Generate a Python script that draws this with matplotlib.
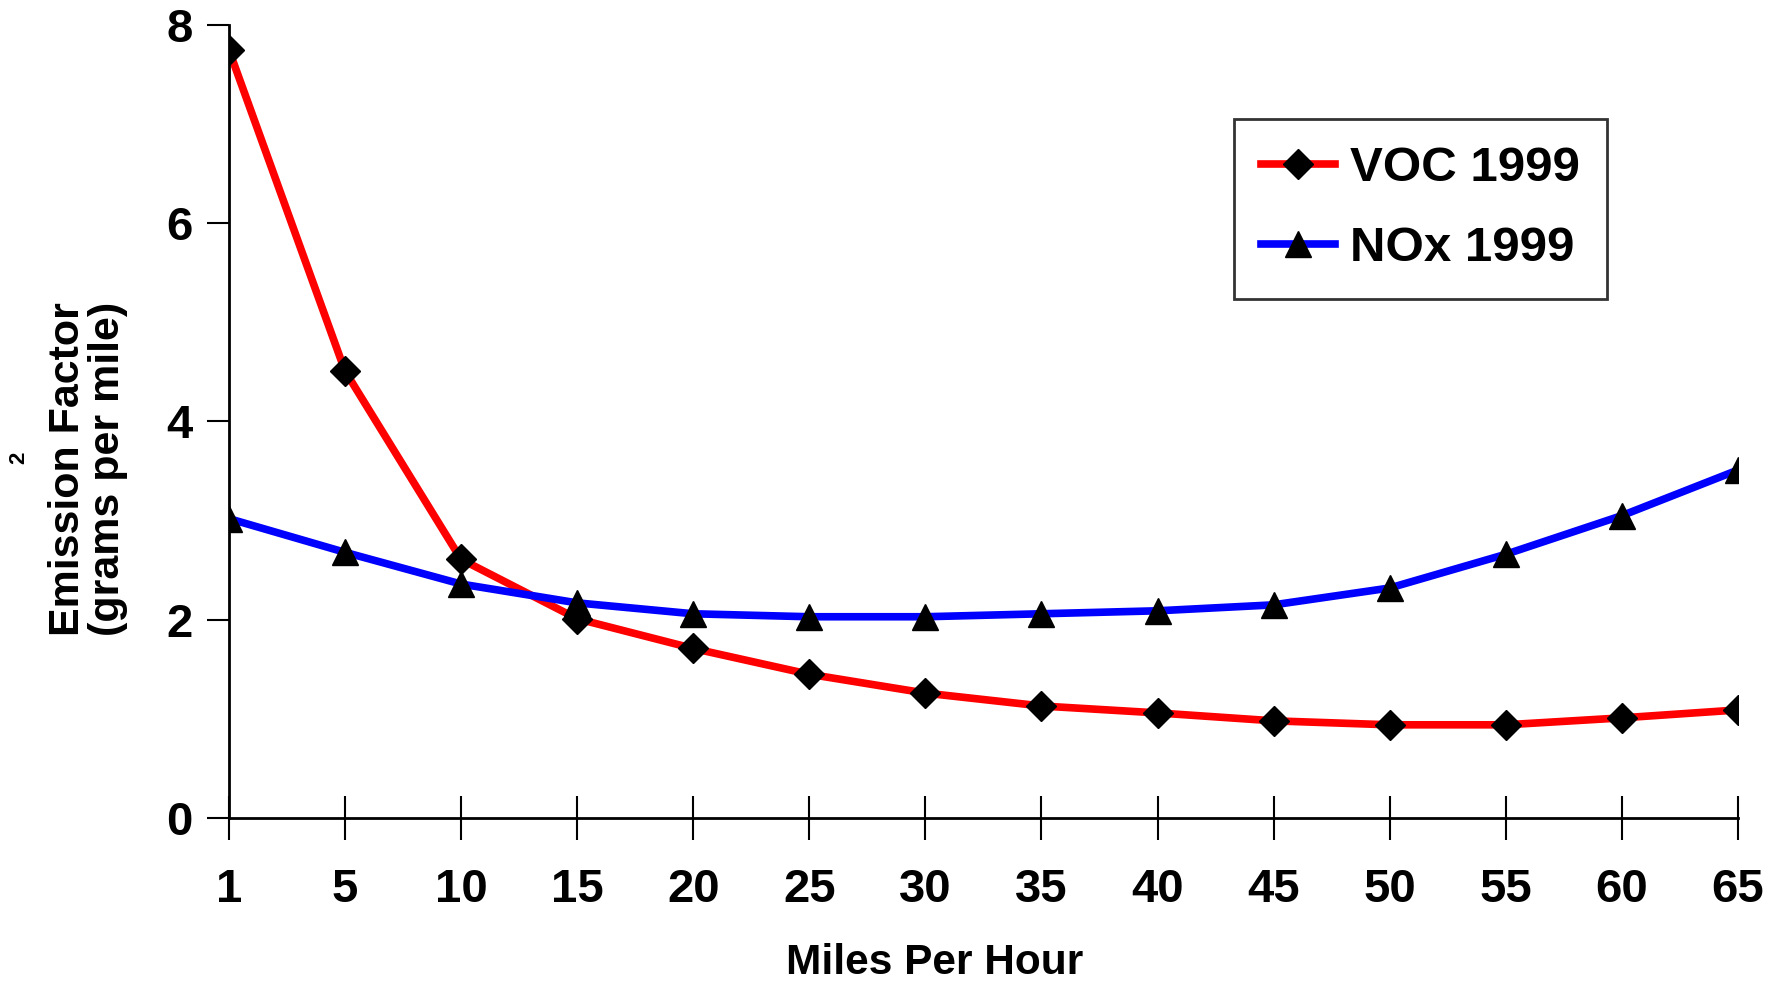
import numpy as np
import matplotlib.pyplot as plt

plt.rcParams['font.family'] = ['Liberation Sans', 'DejaVu Sans']
plt.rcParams['font.weight'] = 'bold'

speeds = ["1", "5", "10", "15", "20", "25", "30", "35", "40", "45", "50", "55", "60", "65"]
voc_1999 = [7.75, 4.51, 2.61, 2.01, 1.71, 1.45, 1.26, 1.13, 1.06, 0.98, 0.94, 0.94, 1.01, 1.09]
nox_1999 = [3.02, 2.68, 2.36, 2.17, 2.06, 2.03, 2.03, 2.06, 2.09, 2.15, 2.32, 2.66, 3.05, 3.51]

x = np.arange(len(speeds))

fig = plt.figure(figsize=(17.88, 9.84), dpi=100)
ax = fig.add_axes([0.128, 0.1687, 0.844, 0.806])

ax.plot(x, voc_1999, color='red', lw=5.5, marker='D', ms=15,
        mfc='black', mec='black', label='VOC 1999')
ax.plot(x, nox_1999, color='blue', lw=5.5, marker='^', ms=19,
        mfc='black', mec='black', label='NOx 1999')

ax.set_xlim(0, len(speeds) - 1)
ax.set_ylim(0, 8)
ax.set_xticks(x)
ax.set_xticklabels(speeds)
ax.set_yticks([0, 2, 4, 6, 8])

for s in ['top', 'right']:
    ax.spines[s].set_visible(False)
ax.spines['left'].set_linewidth(2)
ax.spines['bottom'].set_linewidth(2)

ax.tick_params(axis='x', direction='inout', length=32, width=1.5,
               labelsize=34, pad=20)
ax.tick_params(axis='y', direction='out', length=16, width=1.5,
               labelsize=34, pad=10)
for lab in ax.get_xticklabels() + ax.get_yticklabels():
    lab.set_fontweight('bold')

fig.text(0.523, 0.021, 'Miles Per Hour', ha='center', va='center',
         fontsize=30.5, fontweight='bold')

fig.text(0.049, 0.523, 'Emission Factor\n(grams per mile)', rotation=90,
         ha='center', va='center', fontsize=31, fontweight='bold',
         linespacing=1.0)
fig.text(0.0105, 0.535, '2', rotation=90, ha='center', va='center',
         fontsize=16, fontweight='bold')

leg = ax.legend(loc='upper right', bbox_to_anchor=(0.913, 0.8815),
                borderaxespad=0, fontsize=35.5, frameon=True, fancybox=False,
                handlelength=1.5, borderpad=0.55, labelspacing=0.72,
                handletextpad=0.3)
leg.get_frame().set_edgecolor('black')
leg.get_frame().set_linewidth(2)
for t in leg.get_texts():
    t.set_fontweight('bold')

fig.savefig('out.png', dpi=100)
